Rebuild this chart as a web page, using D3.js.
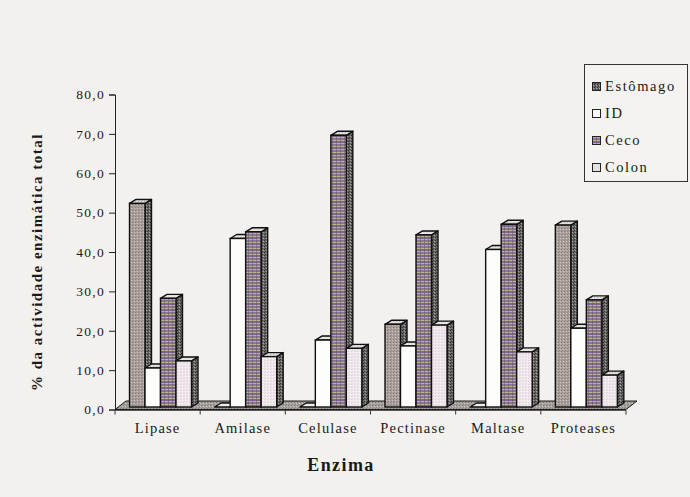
<!DOCTYPE html>
<html>
<head>
<meta charset="utf-8">
<script src="https://cdn.jsdelivr.net/npm/d3@7"></script>
<style>
  html, body { margin: 0; padding: 0; background: #f2f1ed; }
  svg { display: block; font-family: "Liberation Serif", "Times New Roman", serif; }
</style>
</head>
<body>
<svg id="chart" width="690" height="497"></svg>
<script>
// Enzyme activity (% of total) per gut segment
const enzymes = ["Lipase", "Amilase", "Celulase", "Pectinase", "Maltase", "Proteases"];
const seriesNames = ["Estômago", "ID", "Ceco", "Colon"];
const estomago = [51.7, 0, 0, 21.0, 0, 46.2];
const intestinoDelgado = [9.9, 42.8, 17.0, 15.5, 40.0, 20.0];
const ceco = [27.6, 44.5, 69.0, 43.7, 46.4, 27.2];
const colon = [11.7, 12.8, 14.9, 20.8, 14.0, 8.1];
const yTicks = [0, 10, 20, 30, 40, 50, 60, 70, 80];
const xTitle = "Enzima";
const yTitle = "% da actividade enzimática total";

const seriesValues = [estomago, intestinoDelgado, ceco, colon];

const svg = d3.select("#chart");
const defs = svg.append("defs");

// ---- fill textures -------------------------------------------------------
function stipple(id, base, dots, size = 3) {
  const p = defs.append("pattern").attr("id", id).attr("patternUnits", "userSpaceOnUse")
    .attr("width", size).attr("height", size);
  p.append("rect").attr("width", size).attr("height", size).attr("fill", base);
  dots.forEach(([x, yy, c]) => p.append("rect").attr("x", x).attr("y", yy)
    .attr("width", 1).attr("height", 1).attr("fill", c));
}
stipple("estFront", "#aaa09c", [[0, 0, "#877b77"], [2, 1, "#cbc2be"], [1, 2, "#968b87"]]);
stipple("sideDark", "#6b6868", [[0, 0, "#2f2d2d"], [2, 1, "#a7a4a3"], [1, 2, "#3b3939"]]);
stipple("topFace", "#e2e0dd", [[0, 0, "#bdb9b6"], [2, 2, "#f3f1ee"]]);
stipple("floorFill", "#a7a29d", [[0, 0, "#7e7873"], [2, 1, "#c9c4bf"], [1, 2, "#8d8883"]]);
stipple("colonFront", "#efe7eb", [[0, 0, "#ddd0d8"], [2, 1, "#f9f5f7"], [1, 2, "#e5d9e0"]]);

// striped texture for the Ceco series
const cecoPat = defs.append("pattern").attr("id", "cecoFront").attr("patternUnits", "userSpaceOnUse")
  .attr("width", 4).attr("height", 6);
[["#8a7892", 0, 2], ["#bcb38f", 2, 1], ["#7b6d88", 3, 2], ["#c7a7a9", 5, 1]].forEach(([c, yy, h]) =>
  cecoPat.append("rect").attr("x", 0).attr("y", yy).attr("width", 4).attr("height", h).attr("fill", c));
cecoPat.append("rect").attr("x", 0).attr("y", 0).attr("width", 1).attr("height", 6).attr("fill", "#5f566a").attr("opacity", 0.5);

const frontFill = ["url(#estFront)", "#fdfdfc", "url(#cecoFront)", "url(#colonFront)"];
const sideFill = ["url(#sideDark)", "url(#sideDark)", "url(#sideDark)", "url(#sideDark)"];
const legendFill = ["url(#sideDark)", "#fdfdfc", "url(#cecoFront)", "#e4e1e0"];

// ---- scales --------------------------------------------------------------
const y = d3.scaleLinear().domain([0, 80]).range([409.5, 94.5]);
const x0 = d3.scaleBand().domain(enzymes).range([115, 626]);
const x1 = d3.scaleBand().domain(seriesNames).range([12, 12 + 62]);

// oblique projection offsets
const shift = { dx: 2.5, dy: -2.5 };   // bars sit slightly behind the floor front edge
const depth = { dx: 6.5, dy: -4 };     // bar depth
const floorDepth = { dx: 11, dy: -8.5 };

// ---- floor ---------------------------------------------------------------
const [fx0, fx1] = x0.range();
const fy = y(0);
svg.append("polygon")
  .attr("points", [[fx0, fy], [fx1, fy], [fx1 + floorDepth.dx, fy + floorDepth.dy], [fx0 + floorDepth.dx, fy + floorDepth.dy]].map(p => p.join(",")).join(" "))
  .attr("fill", "url(#floorFill)").attr("stroke", "#1a1a1a").attr("stroke-width", 1);

// ---- bars ----------------------------------------------------------------
const pts = arr => arr.map(p => p.join(",")).join(" ");
enzymes.forEach((enz, ci) => {
  const g = svg.append("g").attr("class", "group");
  seriesNames.forEach((s, si) => {
    const v = seriesValues[si][ci];
    const xl = x0(enz) + x1(s) + shift.dx;
    const xr = xl + x1.bandwidth();
    const top = y(v) + shift.dy;
    const bottom = y(0) + shift.dy;
    const bar = g.append("g");
    // side face
    bar.append("polygon")
      .attr("points", pts([[xr, top], [xr + depth.dx, top + depth.dy], [xr + depth.dx, bottom + depth.dy], [xr, bottom]]))
      .attr("fill", sideFill[si]).attr("stroke", "#111").attr("stroke-width", 1.4).attr("stroke-linejoin", "round");
    // top face
    bar.append("polygon")
      .attr("points", pts([[xl, top], [xl + depth.dx, top + depth.dy], [xr + depth.dx, top + depth.dy], [xr, top]]))
      .attr("fill", v === 0 ? "#f0eeeb" : "url(#topFace)").attr("stroke", "#111").attr("stroke-width", 1.4).attr("stroke-linejoin", "round");
    // front face
    if (v > 0) {
      bar.append("rect")
        .attr("x", xl).attr("y", top).attr("width", x1.bandwidth()).attr("height", bottom - top)
        .attr("fill", frontFill[si]).attr("stroke", "#111").attr("stroke-width", 1.4);
    }
  });
});

// ---- value axis ----------------------------------------------------------
const yAxis = svg.append("g").attr("transform", `translate(${fx0},0)`)
  .call(d3.axisLeft(y).tickValues(yTicks).tickSize(6).tickPadding(4)
    .tickFormat(d => d3.format(".1f")(d).replace(".", ",")));
yAxis.select(".domain").attr("stroke", "#222").attr("stroke-width", 1);
yAxis.selectAll(".tick line").attr("stroke", "#222");
yAxis.selectAll("text").attr("font-size", 13.5).attr("letter-spacing", 1.3)
  .attr("font-family", "Liberation Serif, serif").attr("fill", "#1a1a1a");

// ---- category axis -------------------------------------------------------
const xAxis = svg.append("g");
xAxis.append("line").attr("x1", fx0).attr("x2", fx1).attr("y1", fy + 1).attr("y2", fy + 1)
  .attr("stroke", "#333").attr("stroke-width", 0.8);
const bounds = enzymes.map(e => x0(e)).concat([fx1]);
xAxis.selectAll("line.tk").data(bounds).join("line").attr("class", "tk")
  .attr("x1", d => d).attr("x2", d => d).attr("y1", fy + 1).attr("y2", fy + 5)
  .attr("stroke", "#333").attr("stroke-width", 1);
xAxis.selectAll("text").data(enzymes).join("text")
  .attr("x", d => x0(d) + x0.bandwidth() / 2).attr("y", 433)
  .attr("text-anchor", "middle").attr("font-size", 14.5).attr("letter-spacing", 1.2)
  .attr("fill", "#1a1a1a").text(d => d);

// ---- titles --------------------------------------------------------------
svg.append("text").attr("x", 341).attr("y", 471).attr("text-anchor", "middle")
  .attr("font-size", 18).attr("font-weight", "bold").attr("letter-spacing", 1.4)
  .attr("fill", "#1a1a1a").text(xTitle);
svg.append("text").attr("transform", "translate(42,262) rotate(-90)").attr("text-anchor", "middle")
  .attr("font-size", 15).attr("font-weight", "bold").attr("letter-spacing", 1.5)
  .attr("fill", "#1a1a1a").text(yTitle);

// ---- legend --------------------------------------------------------------
const legend = svg.append("g");
legend.append("rect").attr("x", 584.5).attr("y", 64.5).attr("width", 103).attr("height", 117)
  .attr("fill", "#f4f3ef").attr("stroke", "#333").attr("stroke-width", 1);
seriesNames.forEach((s, i) => {
  const cy = 86 + i * 27;
  legend.append("rect").attr("x", 592.5).attr("y", cy - 3.5).attr("width", 8).attr("height", 8)
    .attr("fill", legendFill[i]).attr("stroke", "#222").attr("stroke-width", 1);
  legend.append("text").attr("x", 605).attr("y", cy + 5).attr("font-size", 14.5).attr("letter-spacing", 1.6)
    .attr("fill", "#1a1a1a").text(s);
});
</script>
</body>
</html>
